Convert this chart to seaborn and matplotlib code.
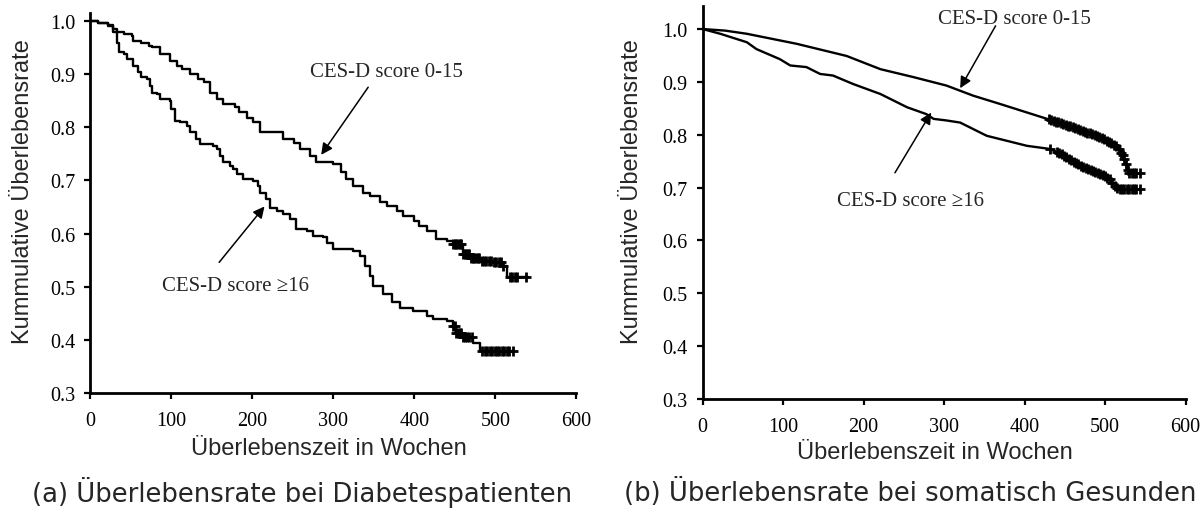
import numpy as np
import pandas as pd
import matplotlib
matplotlib.use("Agg")
import matplotlib.pyplot as plt
import seaborn as sns

# ---------------- data ----------------
# (a) diabetes patients, CES-D 0-15
a_low_t = [0, 10, 22, 28, 41, 51, 53, 63, 72, 76, 86, 98, 107, 113, 123, 133, 140, 148, 156,
           164, 178, 183, 193, 201, 210, 238, 251, 259, 271, 279, 300, 309, 316, 324, 337, 345,
           357, 366, 378, 386, 399, 406, 415, 427, 440, 448, 460, 469, 481, 497, 510, 514, 540]
a_low_s = [1.0, 0.996, 0.991, 0.978, 0.975, 0.972, 0.962, 0.959, 0.953, 0.950, 0.937, 0.925,
           0.915, 0.909, 0.900, 0.890, 0.884, 0.865, 0.853, 0.843, 0.837, 0.828, 0.818, 0.809,
           0.790, 0.778, 0.770, 0.759, 0.746, 0.734, 0.730, 0.715, 0.702, 0.690, 0.677, 0.671,
           0.659, 0.652, 0.643, 0.633, 0.624, 0.615, 0.605, 0.590, 0.586, 0.580, 0.561, 0.555,
           0.549, 0.546, 0.539, 0.518, 0.518]
a_low_cens = [448, 450, 452, 454, 456, 458, 460, 462, 464, 466, 468, 470, 472, 474, 476, 478,
              480, 483, 486, 489, 492, 495, 498, 501, 504, 507, 510, 518, 521, 524, 527, 538]

# (a) diabetes patients, CES-D >= 16
a_high_t = [0, 10, 22, 28, 33, 35, 41, 45, 53, 59, 63, 70, 74, 76, 82, 86, 98, 100, 104, 111,
            119, 123, 131, 135, 152, 156, 160, 164, 172, 176, 181, 189, 201, 207, 210, 217,
            222, 230, 238, 246, 254, 267, 275, 287, 292, 300, 324, 333, 339, 345, 349, 361,
            372, 382, 398, 415, 423, 440, 448, 452, 460, 473, 481, 522]
a_high_s = [1.0, 0.996, 0.990, 0.985, 0.959, 0.941, 0.937, 0.928, 0.915, 0.903, 0.894, 0.890,
            0.878, 0.865, 0.862, 0.853, 0.850, 0.834, 0.812, 0.809, 0.803, 0.790, 0.778, 0.768,
            0.765, 0.759, 0.746, 0.734, 0.727, 0.721, 0.712, 0.702, 0.699, 0.690, 0.677, 0.665,
            0.649, 0.643, 0.637, 0.627, 0.608, 0.605, 0.596, 0.593, 0.583, 0.571, 0.568, 0.558,
            0.539, 0.521, 0.502, 0.486, 0.471, 0.461, 0.455, 0.446, 0.439, 0.436, 0.427, 0.414,
            0.405, 0.395, 0.380, 0.380]
a_high_cens = [448, 450, 452, 454, 456, 458, 460, 462, 465, 468, 471, 484, 487, 490, 493, 496,
               499, 502, 505, 508, 511, 514, 517, 522]

# (b) somatically healthy, CES-D 0-15
b_low_t = [0, 28, 55, 117, 179, 221, 262, 303, 336, 370, 428, 461, 494, 514, 522, 526, 529, 543]
b_low_s = [1.0, 0.997, 0.991, 0.972, 0.949, 0.924, 0.909, 0.893, 0.874, 0.858, 0.830, 0.814,
           0.795, 0.779, 0.762, 0.745, 0.727, 0.727]
b_low_cens = [430, 433, 436, 439, 442, 445, 448, 451, 454, 457, 460, 463, 466, 469, 472, 475,
              478, 481, 484, 487, 490, 493, 496, 499, 502, 505, 508, 511, 514, 517, 520, 522,
              524, 526, 528, 530, 533, 536, 539, 543]

# (b) somatically healthy, CES-D >= 16
b_high_t = [0, 22, 55, 67, 96, 109, 129, 146, 162, 187, 221, 254, 278, 287, 303, 320, 353, 403,
            432, 445, 470, 494, 506, 513, 517, 543]
b_high_s = [1.0, 0.991, 0.975, 0.962, 0.943, 0.931, 0.928, 0.915, 0.912, 0.896, 0.877, 0.852,
            0.839, 0.830, 0.827, 0.823, 0.798, 0.779, 0.773, 0.764, 0.741, 0.726, 0.716, 0.700,
            0.697, 0.697]
b_high_cens = [432, 440, 443, 446, 449, 452, 455, 458, 461, 464, 467, 470, 473, 476, 479, 482,
               485, 488, 491, 494, 497, 500, 503, 506, 509, 512, 515, 518, 521, 524, 527, 530,
               533, 536, 539, 543]

x_ticks = [0, 100, 200, 300, 400, 500, 600]
y_ticks = [0.3, 0.4, 0.5, 0.6, 0.7, 0.8, 0.9, 1.0]
y_ticklabels = ["0.3", "0.4", "0.5", "0.6", "0.7", "0.8", "0.9", "1.0"]

label_low = "CES-D score 0-15"
label_high = "CES-D score \u226516"
x_label = "Überlebenszeit in Wochen"
y_label = "Kummulative Überlebensrate"
title_a = "(a) Überlebensrate bei Diabetespatienten"
title_b = "(b) Überlebensrate bei somatisch Gesunden"

# ---------------- style ----------------
sns.set_style("ticks")
plt.rcParams["font.family"] = ["Liberation Serif", "DejaVu Serif"]
plt.rcParams["axes.linewidth"] = 2.0

SERIF = ["Liberation Serif", "DejaVu Serif"]
SANS = ["Liberation Sans", "DejaVu Sans"]

fig = plt.figure(figsize=(12.03, 5.10), dpi=100)
ax_a = fig.add_axes([0.0751, 0.2269, 0.4040, 0.7457])
ax_b = fig.add_axes([0.5840, 0.2157, 0.4015, 0.7700])


def step_value(t, s, q):
    idx = np.searchsorted(np.asarray(t), np.asarray(q), side="right") - 1
    return np.asarray(s)[idx]


def draw_curve(ax, t, s, cens, steps):
    df = pd.DataFrame({"t": t, "s": s})
    kw = dict(drawstyle="steps-post") if steps else {}
    sns.lineplot(data=df, x="t", y="s", ax=ax, color="black", linewidth=1.7,
                 sort=False, estimator=None, **kw)
    if steps:
        cy = step_value(t, s, cens)
    else:
        cy = np.interp(cens, t, s)
    cdf = pd.DataFrame({"t": cens, "s": cy})
    sns.scatterplot(data=cdf, x="t", y="s", ax=ax, marker="+", color="black",
                    s=55, linewidth=2.0, zorder=3)


draw_curve(ax_a, a_low_t, a_low_s, a_low_cens, True)
draw_curve(ax_a, a_high_t, a_high_s, a_high_cens, True)
draw_curve(ax_b, b_low_t, b_low_s, b_low_cens, False)
draw_curve(ax_b, b_high_t, b_high_s, b_high_cens, False)

arrow = dict(arrowstyle="-|>", color="black", lw=1.1, mutation_scale=17,
             shrinkA=0, shrinkB=0)

ax_a.annotate("", xy=(285, 0.748), xytext=(343, 0.875), arrowprops=arrow)
ax_a.text(366, 0.904, label_low, ha="center", va="center", fontsize=15, family=SERIF)
ax_a.annotate("", xy=(215, 0.651), xytext=(159, 0.546), arrowprops=arrow)
ax_a.text(179, 0.503, label_high, ha="center", va="center", fontsize=15, family=SERIF)

ax_b.annotate("", xy=(320, 0.888), xytext=(364, 1.006), arrowprops=arrow)
ax_b.text(387, 1.020, label_low, ha="center", va="center", fontsize=15, family=SERIF)
ax_b.annotate("", xy=(284, 0.842), xytext=(239, 0.728), arrowprops=arrow)
ax_b.text(258, 0.675, label_high, ha="center", va="center", fontsize=15, family=SERIF)

for ax, ytop, ylc, xlc in [(ax_a, 1.0145, (-0.138, 0.533), (0.49, -0.115)),
                           (ax_b, 1.043, (-0.146, 0.530), (0.48, -0.107))]:
    ax.set_xlim(0, 600)
    ax.set_ylim(0.3, ytop)
    ax.set_xticks(x_ticks)
    ax.set_xticklabels([str(v) for v in x_ticks], family=SERIF)
    ax.set_yticks(y_ticks)
    ax.set_yticklabels(y_ticklabels, family=SERIF)
    ax.tick_params(axis="both", direction="out", length=4, width=1.6, labelsize=14.5,
                   colors="black")
    ax.tick_params(axis="y", pad=7)
    ax.tick_params(axis="x", pad=9)
    sns.despine(ax=ax)
    ax.spines["left"].set_color("black")
    ax.spines["bottom"].set_color("black")
    ax.set_xlabel(x_label, fontsize=17, family=SANS, va="top")
    ax.set_ylabel(y_label, fontsize=17, family=SANS, va="center")
    ax.xaxis.set_label_coords(*xlc)
    ax.yaxis.set_label_coords(*ylc)
    ax.grid(False)

fig.text(0.251, 0.035, title_a, ha="center", va="center", fontsize=18.6, family="DejaVu Sans")
fig.text(0.757, 0.035, title_b, ha="center", va="center", fontsize=18.6, family="DejaVu Sans")

fig.savefig("out.png", dpi=100, facecolor="white")
